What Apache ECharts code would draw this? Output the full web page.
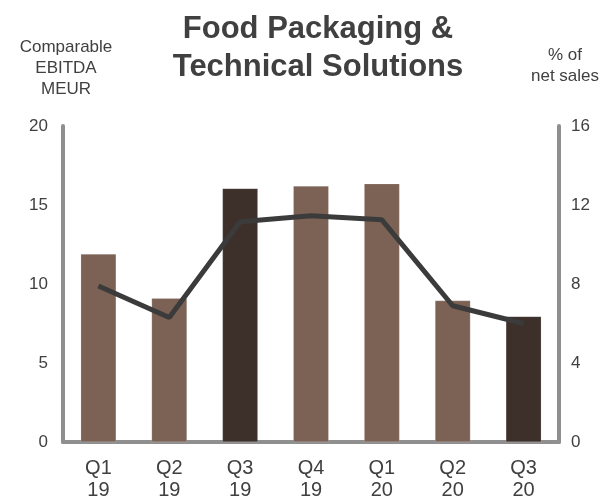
<!DOCTYPE html>
<html><head><meta charset="utf-8">
<script src="https://cdn.jsdelivr.net/npm/echarts@6/dist/echarts.min.js"></script>
<style>html,body{margin:0;padding:0;background:#fff}#c{width:600px;height:503px}</style>
</head><body><div id="c"></div>
<script>
const categories = ['Q1\n19','Q2\n19','Q3\n19','Q4\n19','Q1\n20','Q2\n20','Q3\n20'];
const ebitda = [11.9, 9.1, 16.05, 16.2, 16.35, 8.95, 7.95];
const highlighted = [false, false, true, false, false, false, true];
const pctSales = [7.9, 6.3, 11.15, 11.45, 11.25, 6.9, 6.0];
const leftTicks = {min: 0, max: 20, interval: 5};
const rightTicks = {min: 0, max: 16, interval: 4};

const chart = echarts.init(document.getElementById('c'));
const txt = '#404040';
const font = '"Liberation Sans", Arial, sans-serif';
chart.setOption({
  animation: false,
  textStyle: {fontFamily: font},
  title: {
    text: 'Food Packaging &\nTechnical Solutions',
    left: 313, textAlign: 'center', top: 5,
    textStyle: {fontSize: 31, fontWeight: 'bold', color: txt, lineHeight: 38, fontFamily: font}
  },
  graphic: [
    {type: 'text', position: [66, 37], style: {text: 'Comparable\nEBITDA\nMEUR', x: 0, y: 0, textAlign: 'center', fill: txt, font: '17px ' + font, lineHeight: 21}},
    {type: 'text', position: [565, 45], style: {text: '% of\nnet sales', x: 0, y: 0, textAlign: 'center', fill: txt, font: '17px ' + font, lineHeight: 21}}
  ],
  grid: {left: 63, right: 41, top: 126, bottom: 61},
  xAxis: {
    type: 'category', data: categories,
    axisLine: {lineStyle: {color: '#8f8f8f', width: 4}},
    axisTick: {show: false},
    axisLabel: {color: txt, fontSize: 20, lineHeight: 22, margin: 15, fontFamily: font}
  },
  yAxis: [
    {type: 'value', min: leftTicks.min, max: leftTicks.max, interval: leftTicks.interval,
     axisLine: {show: true, lineStyle: {color: '#8f8f8f', width: 4}},
     axisTick: {show: false}, splitLine: {show: false},
     axisLabel: {color: txt, fontSize: 17, margin: 15, fontFamily: font}},
    {type: 'value', min: rightTicks.min, max: rightTicks.max, interval: rightTicks.interval,
     position: 'right',
     axisLine: {show: true, lineStyle: {color: '#8f8f8f', width: 4}},
     axisTick: {show: false}, splitLine: {show: false},
     axisLabel: {color: txt, fontSize: 17, margin: 12, fontFamily: font}}
  ],
  series: [
    {type: 'bar', yAxisIndex: 0, barWidth: '50%',
     data: ebitda.map((v, i) => ({value: v, itemStyle: {color: highlighted[i] ? '#3d302b' : '#7b6254'}})),
     itemStyle: {borderColor: 'rgba(255,255,255,0.35)', borderWidth: 0.5}, z: 2},
    {type: 'line', yAxisIndex: 1, data: pctSales, symbol: 'none',
     lineStyle: {color: '#3b3b3b', width: 5}, z: 5}
  ]
});
</script></body></html>
